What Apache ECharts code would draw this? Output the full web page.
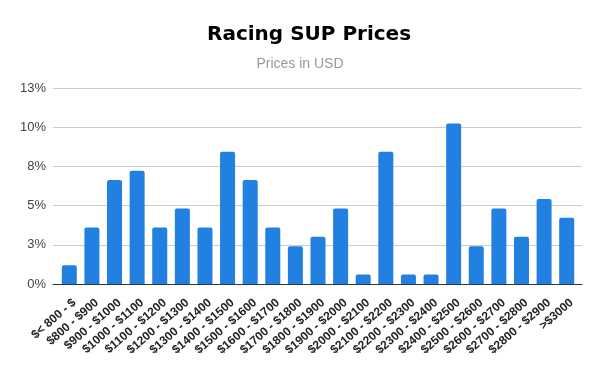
<!DOCTYPE html>
<html>
<head>
<meta charset="utf-8">
<script src="https://cdn.jsdelivr.net/npm/echarts@6/dist/echarts.min.js"></script>
<style>html,body{margin:0;padding:0;background:#fff}#c{width:600px;height:371px}</style>
</head>
<body>
<div id="c"></div>
<script>
const categories = ['$< 800 - $', '$800 - $900', '$900 - $1000', '$1000 - $1100', '$1100 - $1200', '$1200 - $1300', '$1300 - $1400', '$1400 - $1500', '$1500 - $1600', '$1600 - $1700', '$1700 - $1800', '$1800 - $1900', '$1900 - $2000', '$2000 - $2100', '$2100 - $2200', '$2200 - $2300', '$2300 - $2400', '$2400 - $2500', '$2500 - $2600', '$2600 - $2700', '$2700 - $2800', '$2800 - $2900', '>$3000'];
const values = [1.20, 3.61, 6.63, 7.23, 3.61, 4.82, 3.61, 8.43, 6.63, 3.61, 2.41, 3.01, 4.82, 0.60, 8.43, 0.60, 0.60, 10.24, 2.41, 4.82, 3.01, 5.42, 4.22];
const yMin = 0, yMax = 12.5, yStep = 2.5;
const titleText = 'Racing SUP Prices';
const subtitleText = 'Prices in USD';

const hiddenY = (gi) => ({
  gridIndex: gi, type: 'value', min: yMin, max: yMax, interval: yStep,
  axisLine: {show: false}, axisTick: {show: false},
  splitLine: {show: false}, axisLabel: {show: false}
});

const chart = echarts.init(document.getElementById('c'), null, {renderer: 'canvas'});
chart.setOption({
  animation: false,
  backgroundColor: '#fff',
  title: [{
    text: titleText,
    left: 202, top: 20,
    textStyle: {fontFamily: 'DejaVu Sans', fontWeight: 'bold', fontSize: 20, color: '#000'}
  }, {
    text: subtitleText,
    left: 'center', top: 52,
    textStyle: {fontFamily: 'Liberation Sans', fontWeight: 'normal', fontSize: 14, color: '#999'}
  }],
  grid: [
    {left: 53, right: 18, top: 88, bottom: 87, containLabel: false},
    {left: 58, right: 22, top: 88, bottom: 87, containLabel: false},
    {left: 63, right: 17, top: 88, bottom: 87, containLabel: false}
  ],
  xAxis: [{
    gridIndex: 0,
    type: 'category',
    data: categories,
    axisLine: {lineStyle: {color: '#333', width: 1}},
    axisTick: {show: false},
    axisLabel: {show: false},
    z: 5
  }, {
    gridIndex: 1,
    type: 'category',
    data: categories,
    axisLine: {show: false},
    axisTick: {show: false},
    axisLabel: {show: false}
  }, {
    gridIndex: 2,
    type: 'category',
    data: categories,
    axisLine: {show: false},
    axisTick: {show: false},
    axisLabel: {
      interval: 0, rotate: 41, margin: 17,
      fontFamily: 'Liberation Sans', fontWeight: 'bold', fontSize: 12, color: '#222'
    }
  }],
  yAxis: [{
    gridIndex: 0,
    type: 'value',
    min: yMin, max: yMax, interval: yStep,
    axisLine: {show: false},
    axisTick: {show: false},
    splitLine: {lineStyle: {color: '#ccc', width: 1}},
    axisLabel: {
      margin: 7,
      fontFamily: 'Liberation Sans', fontSize: 13, color: '#444',
      formatter: v => Math.round(v) + '%'
    }
  }, hiddenY(1), hiddenY(2)],
  series: [{
    type: 'bar',
    xAxisIndex: 1,
    yAxisIndex: 1,
    data: values,
    barWidth: 15,
    itemStyle: {color: '#2180e0', borderRadius: [2, 2, 0, 0]}
  }]
});
</script>
</body>
</html>
